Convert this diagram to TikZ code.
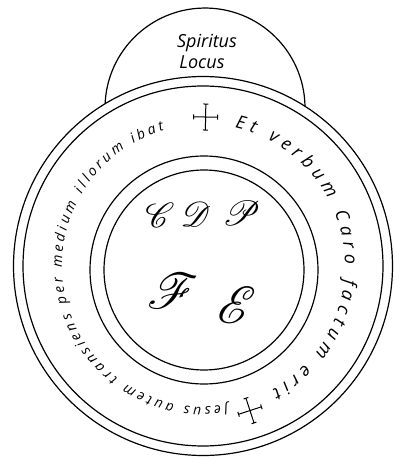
\documentclass[tikz,border=0pt]{standalone}
\usepackage{fontspec}
\setmainfont{Open Sans}
\usepackage{graphicx}
\usetikzlibrary{decorations.text}
\newcommand{\ringbig}{\fontsize{18}{18}\selectfont\itshape}
\newcommand{\ringsmall}{\fontsize{14}{14}\selectfont\itshape}
\newcommand{\sealglyph}[2]{\scalebox{#1}{\usefont{U}{rsfs}{m}{n}\fontsize{24}{24}\selectfont #2}}
\newcommand{\sealcross}[2]{%
  \begin{scope}[shift={(c)}, rotate=#1-90, yshift=#2]
    \draw[cross] (-12,0) -- (12,0) (0,-13) -- (0,13)
      (-12,-2.5) -- (-12,2.5) (12,-2.5) -- (12,2.5)
      (-2.5,-13) -- (2.5,-13) (-2.5,13) -- (2.5,13);
  \end{scope}}

\begin{document}
\begin{tikzpicture}[
  x=1pt, y=1pt,
  ring/.style={line width=1.2pt},
  cross/.style={line width=1pt},
  motto/.style={decorate, decoration={text along path, text align={fit to path}, text={#1}}},
  label/.style={font=\fontsize{18}{18}\selectfont\itshape, inner sep=1pt}
]
\useasboundingbox (0,0) rectangle (395,459);
\coordinate (c)  at (203,193);
\coordinate (ci) at (204,189);
% dome behind the seal
\draw[ring] (305,352.7) arc[start angle=1, end angle=177.5, radius=100];
\node[label] at (207,416) (spiritus) {Spiritus};
\node[label] at (202,397) (locus)    {Locus};
% rings
\draw[ring] (c)  circle[radius=189.5];
\draw[ring] (c)  circle[radius=180];
\draw[ring] (ci) circle[radius=114];
\draw[ring] (ci) circle[radius=100];
% legend round the seal
\path[motto={|\ringbig|Et verbum Caro factum erit}]
  ([shift={(77:142)}]c) arc[start angle=77, end angle=-61, radius=142];
\path[motto={|\ringsmall|Jesus autem transiens per medium illorum ibat}]
  ([shift={(-80:141)}]c) arc[start angle=-80, end angle=-254, radius=141];
\sealcross{89}{149}
\sealcross{-72}{152}
% letters in the middle
\node at (157,244) (lc) {\sealglyph{1.4}{C}};
\node at (194,245) (ld) {\sealglyph{1.4}{D}};
\node at (240,246) (lp) {\sealglyph{1.4}{P}};
\node at (170,168) (lf) {\sealglyph{2}{F}};
\node at (232,154) (le) {\sealglyph{2.1}{E}};
\end{tikzpicture}
\end{document}
